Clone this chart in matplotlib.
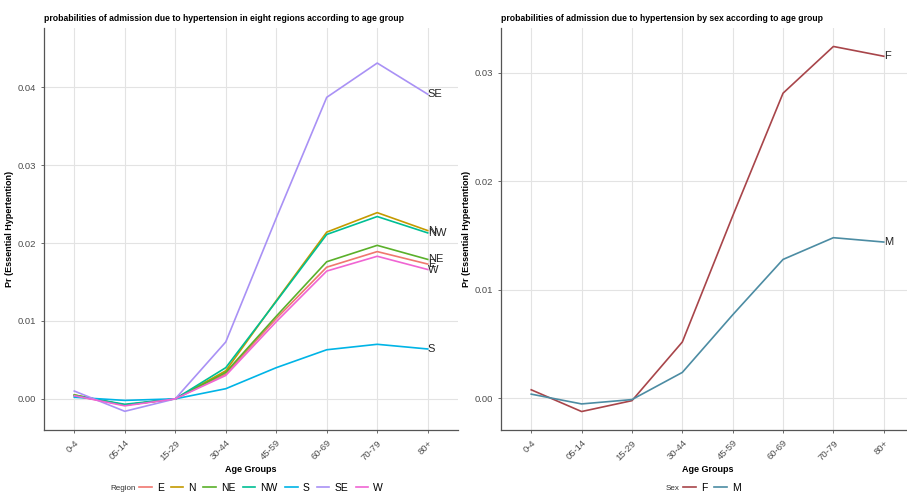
import numpy as np
import matplotlib
matplotlib.use('Agg')
import matplotlib.pyplot as plt
from matplotlib.lines import Line2D

plt.rcParams['font.family'] = ['Liberation Sans', 'DejaVu Sans']

age_groups = ['0-4', '05-14', '15-29', '30-44', '45-59', '60-69', '70-79', '80+']

# left panel: region
regions = ['E', 'N', 'NE', 'NW', 'S', 'SE', 'W']
region_colors = ['#F0776F', '#C49A00', '#5AB02A', '#00BF94', '#00B4E6', '#A991F5', '#F065D3']
pr_E = [0.0004, -0.0008, 0.0, 0.0032, 0.0103, 0.0169, 0.0189, 0.0173]
pr_N = [0.0005, -0.0008, 0.0, 0.0036, 0.0126, 0.0214, 0.0239, 0.0216]
pr_NE = [0.0005, -0.0008, 0.0, 0.0034, 0.0106, 0.0176, 0.0197, 0.0179]
pr_NW = [0.0004, -0.0007, 0.0, 0.0040, 0.0125, 0.0211, 0.0234, 0.0213]
pr_S = [0.0002, -0.0002, 0.0, 0.0013, 0.0040, 0.0063, 0.0070, 0.0064]
pr_SE = [0.0010, -0.0016, 0.0, 0.0073, 0.0232, 0.0387, 0.0431, 0.0391]
pr_W = [0.0004, -0.0009, 0.0, 0.0030, 0.0099, 0.0164, 0.0183, 0.0166]
region_vals = [pr_E, pr_N, pr_NE, pr_NW, pr_S, pr_SE, pr_W]

# right panel: sex
sexes = ['F', 'M']
sex_colors = ['#A8454A', '#4C8CA3']
pr_F = [0.0008, -0.0012, -0.0002, 0.0052, 0.0168, 0.0281, 0.0324, 0.0315]
pr_M = [0.0004, -0.0005, -0.0001, 0.0024, 0.0077, 0.0128, 0.0148, 0.0144]
sex_vals = [pr_F, pr_M]

fig = plt.figure(figsize=(9.07, 4.95), dpi=100)
ax1 = fig.add_axes([44 / 907, 1 - 430 / 495, (458 - 44) / 907, (430 - 28) / 495])
ax2 = fig.add_axes([501 / 907, 1 - 430 / 495, (914 - 501) / 907, (430 - 28) / 495])

x = np.arange(1, len(age_groups) + 1)


def style_axes(ax, title, ylim, yticks):
    ax.set_xlim(0.4, 8.6)
    ax.set_ylim(*ylim)
    ax.set_yticks(yticks)
    ax.set_yticklabels([f'{t:.2f}' for t in yticks])
    ax.set_xticks(x)
    ax.set_xticklabels(age_groups, rotation=45, ha='right', rotation_mode='anchor')
    ax.grid(True, color='#E3E3E3', linewidth=0.8)
    ax.set_axisbelow(True)
    for s in ['top', 'right']:
        ax.spines[s].set_visible(False)
    for s in ['left', 'bottom']:
        ax.spines[s].set_color('#555555')
        ax.spines[s].set_linewidth(0.9)
    ax.tick_params(colors='#555555', labelcolor='#4D4D4D', labelsize=6.8, length=2.5, width=0.6)
    ax.set_xlabel('Age Groups', fontsize=6.5, fontweight='bold', labelpad=2)
    ax.set_ylabel('Pr (Essential Hypertention)', fontsize=6.5, fontweight='bold', labelpad=2)
    ax.set_title(title, fontsize=6.2, fontweight='bold', loc='left', pad=5, x=0.0)


for name, vals, col in zip(regions, region_vals, region_colors):
    ax1.plot(x, vals, color=col, linewidth=1.2)
    ax1.text(x[-1], vals[-1], name, fontsize=8, va='center', ha='left', color='#222222')
style_axes(ax1, 'probabilities of admission due to hypertension in eight regions according to age group',
           (-0.004, 0.0476), [0.0, 0.01, 0.02, 0.03, 0.04])

for name, vals, col in zip(sexes, sex_vals, sex_colors):
    ax2.plot(x, vals, color=col, linewidth=1.2)
    ax2.text(x[-1], vals[-1], name, fontsize=8, va='center', ha='left', color='#222222')
style_axes(ax2, 'probabilities of admission due to hypertension by sex according to age group',
           (-0.0029, 0.0341), [0.0, 0.01, 0.02, 0.03])

# legends along the bottom
h1 = [Line2D([], [], color=c, linewidth=1.2) for c in region_colors]
fig.legend(h1, regions, loc='center left', bbox_to_anchor=(139 / 907, 1 - 488 / 495), ncol=7,
           frameon=False, fontsize=7.5, handlelength=1.2, handletextpad=0.5, columnspacing=0.7,
           borderpad=0, borderaxespad=0)
fig.text(136 / 907, 1 - 488 / 495, 'Region', fontsize=5.8, ha='right', va='center', color='#333333')

h2 = [Line2D([], [], color=c, linewidth=1.2) for c in sex_colors]
fig.legend(h2, sexes, loc='center left', bbox_to_anchor=(683 / 907, 1 - 488 / 495), ncol=2,
           frameon=False, fontsize=7.5, handlelength=1.2, handletextpad=0.5, columnspacing=0.7,
           borderpad=0, borderaxespad=0)
fig.text(680 / 907, 1 - 488 / 495, 'Sex', fontsize=5.8, ha='right', va='center', color='#333333')

fig.savefig('out.png', dpi=100)
